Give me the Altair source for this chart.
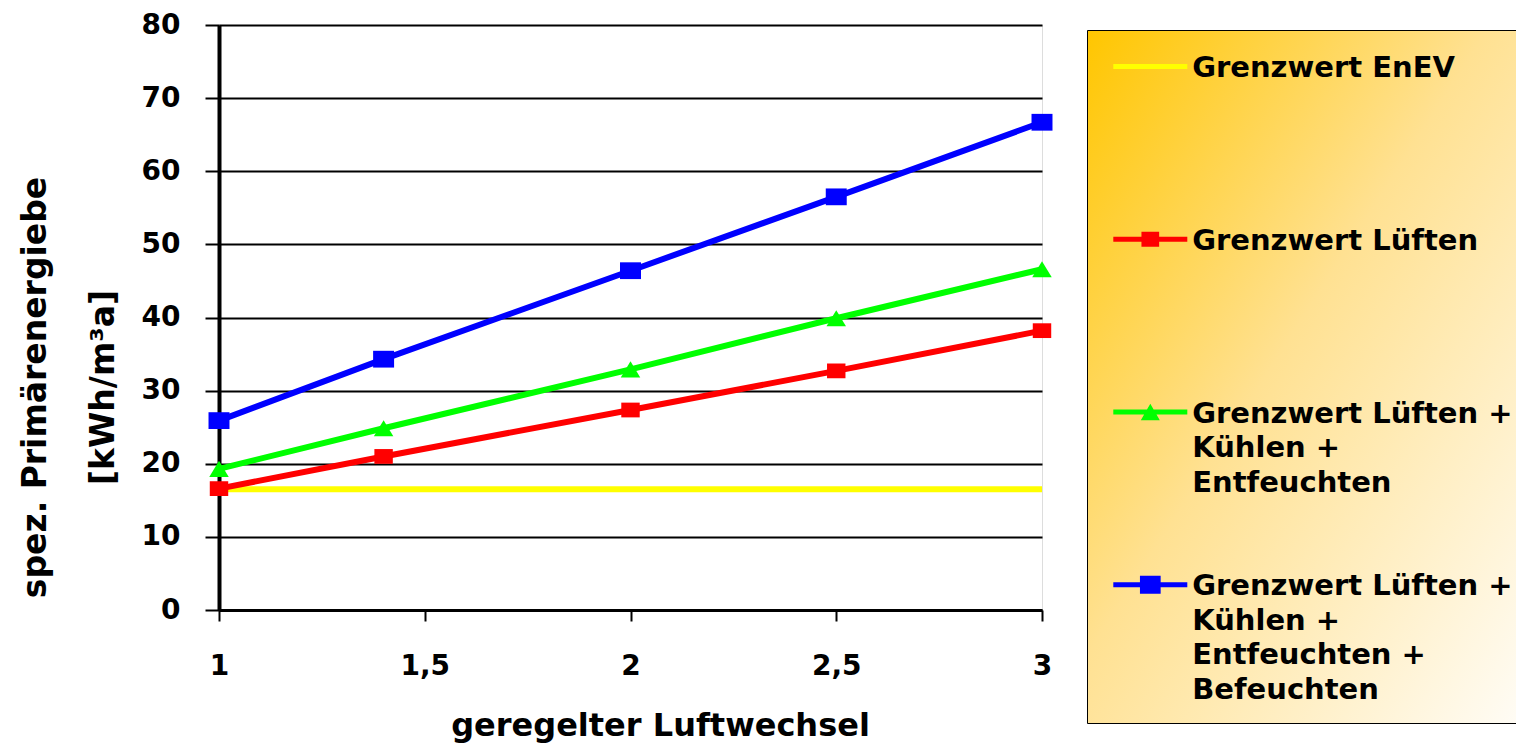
import altair as alt
import pandas as pd

# ---------------- data ----------------
x_values = [1, 1.4, 2, 2.5, 3]
series_names = [
    "Grenzwert EnEV",
    "Grenzwert Lüften",
    "Grenzwert Lüften + Kühlen + Entfeuchten",
    "Grenzwert Lüften + Kühlen + Entfeuchten + Befeuchten",
]
enev = [16.5, 16.5, 16.5, 16.5, 16.5]
lueften = [16.6, 21.0, 27.35, 32.7, 38.2]
lueften_kuehlen_entf = [19.3, 24.85, 32.9, 39.9, 46.6]
lueften_kuehlen_entf_bef = [25.9, 34.3, 46.4, 56.5, 66.7]
series_values = [enev, lueften, lueften_kuehlen_entf, lueften_kuehlen_entf_bef]
series_colors = ["#FFFF00", "#FF0000", "#00FF00", "#0000FF"]
legend_lines = [
    ["Grenzwert EnEV"],
    ["Grenzwert Lüften"],
    ["Grenzwert Lüften +", "Kühlen +", "Entfeuchten"],
    ["Grenzwert Lüften +", "Kühlen +", "Entfeuchten +", "Befeuchten"],
]
x_ticks = [1, 1.5, 2, 2.5, 3]
y_ticks = [0, 10, 20, 30, 40, 50, 60, 70, 80]
x_title = "geregelter Luftwechsel"
y_title = ["spez. Primärenergiebe", "[kWh/m³a]"]

rows = []
for name, vals in zip(series_names, series_values):
    for xv, yv in zip(x_values, vals):
        rows.append({"x": xv, "value": yv, "series": name})
df = pd.DataFrame(rows)

FONT = "DejaVu Sans"

# ---------------- symbols ----------------
rect_marker = "M-1,-0.8H1V0.8H-1Z"
tri_marker = "M0,-0.83L1,0.83H-1Z"

# legend symbol paths (defined in px, converted to symbol units)
LEG_SYMBOL_SIZE = 3295
u = (LEG_SYMBOL_SIZE ** 0.5) / 2          # px per path unit
cx_px, cy_px = 16.3, -10.6                # symbol centre relative to entry anchor
def P(v):
    return f"{v / u:.4f}"
def rect(x0, x1, y0, y1):
    x0 += cx_px; x1 += cx_px; y0 += cy_px; y1 += cy_px
    return f"M{P(x0)},{P(y0)}H{P(x1)}V{P(y1)}H{P(x0)}Z"
line_part = rect(-37, 37, -2.5, 2.5)
red_part = rect(-8.85, 8.85, -7.5, 7.5)
blue_part = rect(-10.35, 10.35, -9, 9)
tri_part = (f"M{P(cx_px)},{P(cy_px - 8.35)}L{P(cx_px + 9.5)},{P(cy_px + 8.35)}"
            f"H{P(cx_px - 9.5)}Z")
legend_paths = [
    line_part,
    line_part + red_part,
    line_part + tri_part,
    line_part + blue_part,
]

def arr(lines):
    padded = lines + [""] * (4 - len(lines))
    return "[" + ",".join("'" + s + "'" for s in padded) + "]"

label_expr = "datum.label"
for name, lines in reversed(list(zip(series_names, legend_lines))):
    label_expr = f"datum.value === '{name}' ? {arr(lines)} : ({label_expr})"

gradient_expr = (
    "{gradient: 'linear', x1: 0, y1: 0, x2: 1, y2: 1, stops: ["
    "{offset: 0, color: '#FFC600'}, {offset: 0.45, color: '#FFE192'}, "
    "{offset: 1, color: '#FFFDF8'}]}"
)

color_scale = alt.Scale(domain=series_names, range=series_colors)

x_enc = alt.X(
    "x:Q",
    scale=alt.Scale(domain=[1, 3], nice=False, zero=False),
    axis=alt.Axis(
        values=x_ticks,
        labelExpr="replace(toString(datum.value), '.', ',')",
        labelFont=FONT, labelFontSize=28, labelFontWeight="bold", labelColor="black",
        labelPadding=31, labelFlush=False, labelOverlap=False,
        tickSize=11, tickWidth=2, tickColor="black",
        domainColor="black", domainWidth=3,
        grid=False,
        title=x_title, titleFont=FONT, titleFontSize=32, titleFontWeight="bold",
        titleColor="black", titleX=441, titleY=125, titleAlign="center",
        titleBaseline="alphabetic",
    ),
)
y_enc = alt.Y(
    "value:Q",
    scale=alt.Scale(domain=[0, 80], nice=False),
    axis=alt.Axis(
        values=y_ticks,
        labelFont=FONT, labelFontSize=28, labelFontWeight="bold", labelColor="black",
        labelPadding=25,
        tickSize=14, tickWidth=2, tickColor="black",
        domainColor="black", domainWidth=4,
        grid=True, gridColor="black", gridWidth=2, gridOpacity=1,
        title=y_title, titleFont=FONT, titleFontSize=33, titleFontWeight="bold",
        titleColor="black", titleAngle=270, titleAlign="center",
        titleBaseline="alphabetic", titleX=-174, titleY=362, titleLineHeight=68,
    ),
)

base = alt.Chart(df)

lines = base.mark_line(strokeWidth=6).encode(
    x=x_enc, y=y_enc,
    color=alt.Color("series:N", scale=color_scale, legend=None),
)

red_markers = base.transform_filter(
    alt.datum.series == series_names[1]
).mark_point(filled=True, shape=rect_marker, size=340, strokeWidth=0, opacity=1).encode(
    x=x_enc, y=y_enc, color=alt.Color("series:N", scale=color_scale, legend=None)
)
blue_markers = base.transform_filter(
    alt.datum.series == series_names[3]
).mark_point(filled=True, shape=rect_marker, size=440, strokeWidth=0, opacity=1).encode(
    x=x_enc, y=y_enc, color=alt.Color("series:N", scale=color_scale, legend=None)
)
green_markers = base.transform_filter(
    alt.datum.series == series_names[2]
).mark_point(filled=True, shape=tri_marker, size=380, strokeWidth=0, opacity=1).encode(
    x=x_enc, y=y_enc, color=alt.Color("series:N", scale=color_scale, legend=None)
)

legend_def = alt.Legend(
    title=None, orient="none", legendX=868, legendY=5,
    padding=18, rowPadding=33.8,
    symbolSize=LEG_SYMBOL_SIZE, symbolOffset=0, symbolStrokeWidth=0, symbolOpacity=1,
    labelOffset=29.2, labelFont=FONT, labelFontSize=29, labelFontWeight="bold",
    labelColor="black", labelBaseline="alphabetic", labelLimit=700,
    labelExpr=label_expr,
    fillColor=alt.ExprRef(expr=gradient_expr),
    strokeColor="black",
)

legend_layer = base.mark_point(filled=True, size=LEG_SYMBOL_SIZE, strokeWidth=0, clip=True).encode(
    x=x_enc,
    y=alt.value(-3000),
    color=alt.Color("series:N", scale=color_scale, legend=legend_def),
    shape=alt.Shape("series:N", scale=alt.Scale(domain=series_names, range=legend_paths),
                    legend=legend_def),
)

chart = alt.layer(legend_layer, lines, red_markers, green_markers, blue_markers).properties(
    width=823, height=585,
    autosize=alt.AutoSizeParams(type="none"),
    padding={"left": 211, "top": 17, "right": 474, "bottom": 135},
    background="white",
).configure_view(
    stroke="black", strokeWidth=2
).configure_legend(
    strokeWidth=2
).configure(
    style={"guide-label": {"lineHeight": 34.5}}
)

chart.save("out.html", embed_options={"renderer": "svg", "actions": False})
